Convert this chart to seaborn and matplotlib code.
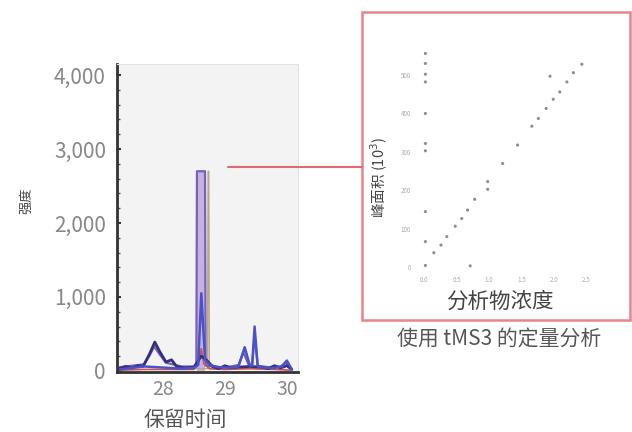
import matplotlib
matplotlib.use("Agg")
import matplotlib.pyplot as plt
import seaborn as sns
import pandas as pd
from matplotlib.patches import Rectangle
from matplotlib.lines import Line2D

sns.set_theme(style="white")
plt.rcParams['font.family'] = ['Noto Sans CJK SC', 'DejaVu Sans']

# ---- chromatogram data (retention time, intensity) ----
t_purple = [27.30, 27.50, 27.70, 27.78, 27.86, 27.95, 28.05, 28.15, 28.30, 28.45, 28.54, 28.55, 28.68, 28.69, 28.80, 28.95, 29.10, 29.22, 29.30, 29.38, 29.44, 29.48, 29.53, 29.70, 29.90, 29.98, 30.08]
i_purple = [50, 70, 90, 200, 330, 220, 110, 90, 60, 60, 60, 2700, 2700, 70, 60, 50, 60, 80, 250, 90, 80, 480, 70, 50, 60, 110, 30]

t_tan = [28.50, 28.72, 28.73, 28.74, 28.75, 29.00]
i_tan = [30, 30, 2700, 2700, 30, 30]

t_blue = [27.30, 27.50, 27.70, 27.90, 28.10, 28.30, 28.50, 28.57, 28.62, 28.68, 28.75, 28.90, 29.10, 29.22, 29.32, 29.40, 29.44, 29.48, 29.53, 29.65, 29.80, 29.92, 30.00, 30.08]
i_blue = [20, 40, 60, 50, 40, 30, 40, 80, 1050, 150, 80, 50, 40, 60, 320, 80, 70, 600, 60, 40, 40, 60, 140, 20]

t_navy = [27.30, 27.40, 27.50, 27.60, 27.68, 27.78, 27.87, 27.95, 28.05, 28.14, 28.22, 28.35, 28.50, 28.62, 28.70, 28.80, 28.90, 29.00, 29.10, 29.20, 29.40, 29.60, 29.70, 29.80, 29.90, 30.00, 30.08]
i_navy = [30, 60, 40, 70, 60, 220, 390, 260, 120, 150, 60, 40, 50, 200, 150, 60, 30, 70, 40, 50, 60, 50, 30, 70, 40, 70, 20]

t_red = [27.30, 27.70, 28.10, 28.50, 28.58, 28.62, 28.66, 28.75, 29.00, 29.40, 29.80, 30.05]
i_red = [10, 20, 20, 20, 120, 300, 100, 30, 20, 30, 20, 10]

x_ticks = [28, 29, 30]
y_ticks = [0, 1000, 2000, 3000, 4000]
y_ticklabels = ["0", "1,000", "2,000", "3,000", "4,000"]

# ---- calibration inset data ----
conc = [0.15, 0.26, 0.35, 0.48, 0.58, 0.67, 0.78, 0.98, 0.98, 1.21, 1.44, 1.66, 1.76, 1.88, 1.99, 2.09, 2.20, 2.30, 2.43, 1.94, 0.71,
        0.02, 0.02, 0.02, 0.02, 0.02, 0.02, 0.02, 0.02, 0.02, 0.02]
area = [37, 57, 79, 106, 126, 148, 176, 202, 222, 269, 317, 366, 386, 412, 436, 455, 481, 505, 527, 496, 3,
        4, 66, 144, 302, 321, 399, 481, 501, 529, 555]
cal_x_ticks = [0.0, 0.5, 1.0, 1.5, 2.0, 2.5]
cal_y_ticks = [0, 100, 200, 300, 400, 500]

W, H = 632, 432
fig = plt.figure(figsize=(W / 100, H / 100), dpi=100)
fig.patch.set_facecolor("white")

def fx(px):
    return px / W

def fy(py):
    return 1 - py / H

# ---- left chromatogram ----
ax = fig.add_axes([fx(117), fy(372), (298 - 117) / W, (372 - 64) / H])
ax.set_facecolor("#f3f3f3")

ax.fill_between(t_purple, i_purple, where=[v > 1000 for v in i_purple],
                color="#b9a2dc", alpha=0.8, lw=0)
series = [
    (t_tan, i_tan, "#b8a88a", 1.0),
    (t_purple, i_purple, "#7a60b8", 1.6),
    (t_red, i_red, "#d05050", 1.2),
    (t_navy, i_navy, "#35307e", 2.0),
    (t_blue, i_blue, "#4a52c8", 1.8),
]
for t, i, c, lw in series:
    df = pd.DataFrame({"t": t, "i": i})
    sns.lineplot(data=df, x="t", y="i", ax=ax, color=c, lw=lw, estimator=None, sort=False)

ax.set_xlim(27.26, 30.18)
ax.set_ylim(-15, 4150)
ax.set_xticks(x_ticks)
ax.set_xticklabels([str(v) for v in x_ticks])
ax.set_yticks(y_ticks)
ax.set_yticklabels(y_ticklabels)
ax.set_yticks(range(0, 4001, 200), minor=True)
ax.tick_params(axis="y", which="major", length=3, width=1.5, direction="in", color="#333333",
               labelsize=15, labelcolor="#888888", pad=8, left=True)
ax.tick_params(axis="y", which="minor", length=2, width=1, direction="in", color="#555555", left=True)
ax.tick_params(axis="x", length=0, labelsize=14, labelcolor="#888888", pad=5)
for s in ["top", "right"]:
    ax.spines[s].set_color("#e2e2e2")
    ax.spines[s].set_linewidth(0.8)
ax.spines["left"].set_color("#333333")
ax.spines["left"].set_linewidth(2)
ax.spines["bottom"].set_color("#333333")
ax.spines["bottom"].set_linewidth(2)
ax.set_xlabel("")
ax.set_ylabel("")
fig.text(fx(185), fy(420), "保留时间", fontsize=15, color="#555555", ha="center", va="center")
fig.text(fx(27), fy(201), "强度", rotation=90, fontsize=9.5, color="#444444", ha="center", va="center")

# ---- connector & inset frame ----
fig.add_artist(Line2D([fx(228), fx(362)], [fy(167), fy(167)], color="#e06a72", lw=1.5))
fig.add_artist(Rectangle((fx(362), fy(320)), (630 - 362) / W, (320 - 12) / H,
                         facecolor="white", edgecolor="#e8848b", lw=1.8, zorder=0))

# ---- inset calibration plot ----
ax2 = fig.add_axes([fx(415), fy(272), (600 - 415) / W, (272 - 50) / H])
ax2.set_facecolor("white")
cal = pd.DataFrame({"c": conc, "a": area})
sns.scatterplot(data=cal, x="c", y="a", ax=ax2, color="#666666", s=5, edgecolor="none", alpha=0.75)
ax2.set_xlim(-0.14, 2.71)
ax2.set_ylim(-13, 564)
ax2.set_xticks(cal_x_ticks)
ax2.set_xticklabels([f"{v:.1f}" for v in cal_x_ticks])
ax2.set_yticks(cal_y_ticks)
ax2.set_yticklabels([str(v) for v in cal_y_ticks])
ax2.tick_params(length=0, labelsize=4.5, labelcolor="#aaaaaa", pad=3)
for s in ax2.spines.values():
    s.set_visible(False)
ax2.set_xlabel("")
ax2.set_ylabel("")

fig.text(fx(379), fy(178), "峰面积 (10$^3$)", rotation=90, fontsize=10.5, color="#444444", ha="center", va="center")
fig.text(fx(500), fy(302), "分析物浓度", fontsize=15.5, color="#444444", ha="center", va="center")
fig.text(fx(499), fy(340), "使用 tMS3 的定量分析", fontsize=15, color="#555555", ha="center", va="center")

fig.savefig("out.png", dpi=100)
